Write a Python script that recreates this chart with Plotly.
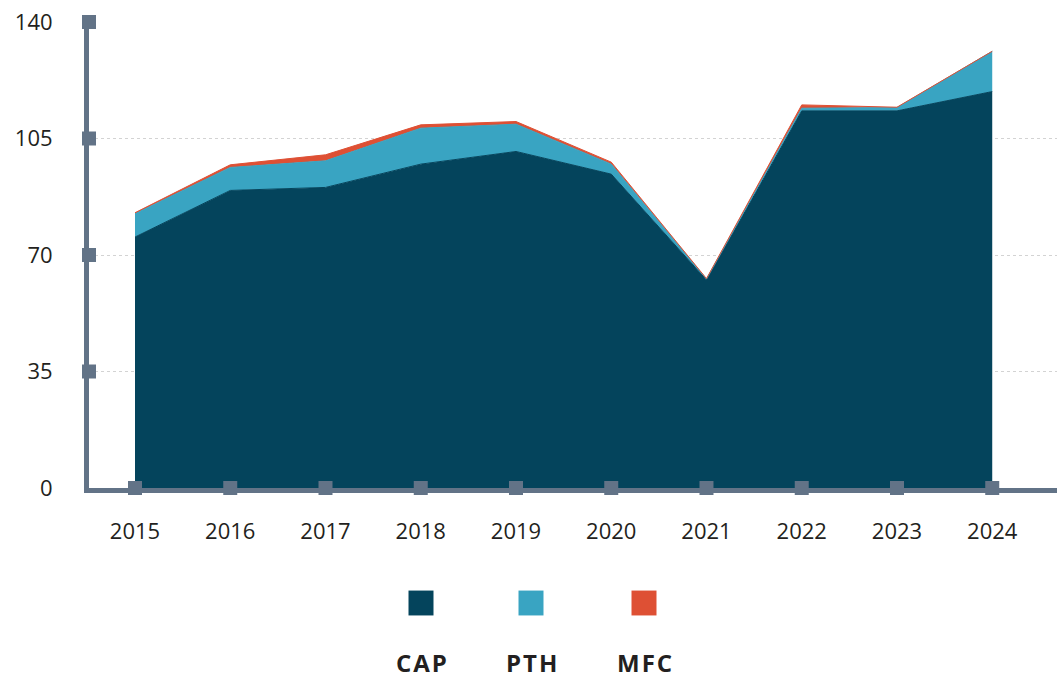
import plotly.graph_objects as go

years = [2015, 2016, 2017, 2018, 2019, 2020, 2021, 2022, 2023, 2024]
cap = [75.4, 89.4, 90.3, 97.3, 101.1, 94.3, 62.5, 113.3, 113.3, 119.1]
pth = [7.0, 6.9, 8.0, 10.8, 8.2, 3.0, 0.3, 0.8, 1.0, 12.1]
mfc = [0.3, 0.8, 1.8, 1.0, 0.8, 0.6, 0.1, 1.0, 0.1, 0.0]
series_names = ["CAP", "PTH", "MFC"]
colors = ["#04445C", "#39A4C2", "#DE5034"]
y_ticks = [0, 35, 70, 105, 140]

AXIS = "#627387"
FONT = "'Open Sans', Lato, sans-serif"
TXT = "#231F20"

fig = go.Figure()
for name, vals, col in zip(series_names, [cap, pth, mfc], colors):
    fig.add_trace(go.Scatter(
        x=years, y=vals, name=name, mode="lines", stackgroup="one",
        line=dict(color=col, width=1), fillcolor=col, showlegend=False,
    ))

x_min, x_max = 2014.517, 2024.68

# tick squares
fig.add_trace(go.Scatter(
    x=years, y=[0] * len(years), mode="markers",
    marker=dict(symbol="square", size=14, color=AXIS),
    cliponaxis=False, showlegend=False, hoverinfo="skip"))
fig.add_trace(go.Scatter(
    x=[x_min] * (len(y_ticks) - 1), y=y_ticks[1:], mode="markers",
    marker=dict(symbol="square", size=14, color=AXIS),
    cliponaxis=False, showlegend=False, hoverinfo="skip"))

W, H = 1063, 678
L, R, T, B = 89, 6, 20, 190
pw, ph = W - L - R, H - T - B

def px(xp):
    return (xp - L) / pw

def py(yp):
    return (H - B - yp) / ph

shapes = []
annotations = []
legend_centers = [421, 531, 644]
for name, col, cx in zip(series_names, colors, legend_centers):
    shapes.append(dict(type="rect", xref="paper", yref="paper",
                       x0=px(cx - 12.5), x1=px(cx + 12.5),
                       y0=py(616), y1=py(591),
                       fillcolor=col, line=dict(width=0)))
    annotations.append(dict(xref="paper", yref="paper", x=px(cx + 1), y=py(663),
                            text="<span style='letter-spacing:2px'>" + name + "</span>",
                            showarrow=False, xanchor="center", yanchor="middle",
                            font=dict(size=24, color=TXT, family=FONT, weight=700)))

fig.update_layout(
    width=W, height=H,
    margin=dict(l=L, r=R, t=T, b=B),
    paper_bgcolor="white", plot_bgcolor="white",
    font=dict(family=FONT, size=22, color=TXT),
    shapes=shapes, annotations=annotations,
    xaxis=dict(range=[x_min, x_max], tickvals=years, ticktext=[str(y) for y in years],
               showgrid=False, zeroline=False, showline=True, linecolor=AXIS, linewidth=5,
               ticks="", ticklabelstandoff=20, tickfont=dict(size=22)),
    yaxis=dict(range=[0, 140], tickvals=y_ticks, showgrid=True, gridcolor="#D3D3D3",
               griddash="dot", gridwidth=1, zeroline=False, showline=True,
               linecolor=AXIS, linewidth=5, ticks="", ticklabelstandoff=27,
               tickfont=dict(size=22)),
)

fig.write_html("out.html", config={"displayModeBar": False},
               post_script="document.body.style.margin='0';")
